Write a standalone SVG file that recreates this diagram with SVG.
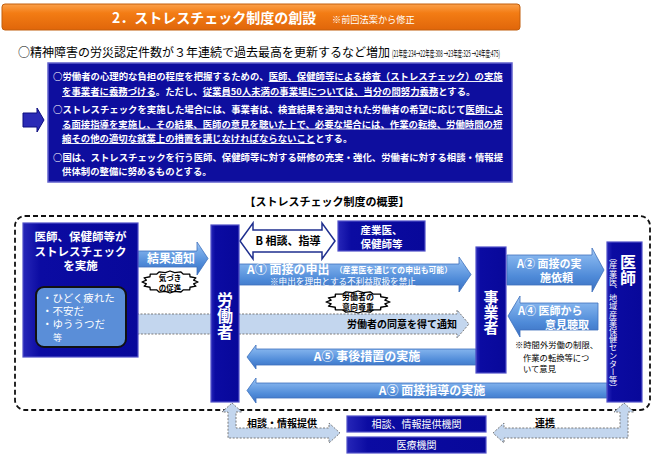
<svg xmlns="http://www.w3.org/2000/svg" width="660" height="457" viewBox="0 0 660 457">
<defs>
<linearGradient id="og" x1="0" y1="0" x2="0" y2="1">
<stop offset="0" stop-color="#fba04a"/><stop offset="0.35" stop-color="#f37c14"/><stop offset="1" stop-color="#e0660a"/>
</linearGradient>
<linearGradient id="ag" x1="0" y1="0" x2="0" y2="1">
<stop offset="0" stop-color="#b4d4f7"/><stop offset="0.2" stop-color="#80b1ec"/><stop offset="0.65" stop-color="#4e8ad8"/><stop offset="1" stop-color="#3a6fc0"/>
</linearGradient>
<linearGradient id="ng" x1="0" y1="0" x2="1" y2="0">
<stop offset="0" stop-color="#2626b8"/><stop offset="0.15" stop-color="#0b0ba2"/><stop offset="1" stop-color="#08089a"/>
</linearGradient>
<path id="star" d="M28,0 L23.6,1.84 L25.9,4.2 L20,5.26 L19.8,7.78 L13.4,7.86 L10.7,10.2 L4.7,9.28 L0,11 L-4.7,9.28 L-10.7,10.2 L-13.4,7.86 L-19.8,7.78 L-20,5.26 L-25.9,4.2 L-23.6,1.84 L-28,0 L-23.6,-1.84 L-25.9,-4.2 L-20,-5.26 L-19.8,-7.78 L-13.4,-7.86 L-10.7,-10.2 L-4.7,-9.28 L0,-11 L4.7,-9.28 L10.7,-10.2 L13.4,-7.86 L19.8,-7.78 L20,-5.26 L25.9,-4.2 L23.6,-1.84 Z"/>
</defs>
<style>
text{font-family:"Noto Sans CJK JP","Noto Sans CJK SC",sans-serif;}
.w{fill:#fff}
.k{fill:#000}
.b{font-weight:bold}
.node{fill:url(#ng);stroke:#5050c8;stroke-width:1.2}
.arr{fill:url(#ag);stroke:#3c70bd;stroke-width:0.8}
.band{fill:#c3d6ee;stroke:#7a7a7a;stroke-width:1;stroke-dasharray:2 1.5}
.u{text-decoration:underline}
.vt{writing-mode:vertical-rl}
.star{fill:#fff;stroke:#000;stroke-width:1.3;stroke-linejoin:round}
</style>
<rect width="660" height="457" fill="#fff"/>

<g id="title">
<rect x="2" y="4" width="518" height="26" rx="3" fill="url(#og)" stroke="#c25e0c" stroke-width="1"/>
<text x="112" y="23" class="w b" font-size="14">2．ストレスチェック制度の創設</text>
<text x="332" y="23" class="w" font-size="9.2">※前回法案から修正</text>
</g>

<g id="intro">
<text x="18" y="57" class="k" font-size="12">○精神障害の労災認定件数が３年連続で過去最高を更新するなど増加</text>
<text x="392" y="57" class="k" font-size="9.5" textLength="108" lengthAdjust="spacingAndGlyphs">(21年度:234→22年度:308 →23年度:325 →24年度:475)</text>
</g>

<g id="summary">
<path d="M23,113 H37 V108 L44,120 L37,132 V127 H23 Z" fill="#2a2ab6" stroke="#0c0c80" stroke-width="1"/>
<rect x="48" y="63" width="464" height="119" fill="#0e0e9e" stroke="#6060cc" stroke-width="1.5"/>
<g class="w b" font-size="9.4">
<text x="53" y="80">○労働者の心理的な負担の程度を把握するための、<tspan class="u">医師、保健師等による検査（ストレスチェック）の実施</tspan></text>
<text x="62" y="95"><tspan class="u">を事業者に義務づける</tspan>。ただし、<tspan class="u">従業員50人未満の事業場については、当分の間努力義務</tspan>とする。</text>
<text x="53" y="113">○ストレスチェックを実施した場合には、事業者は、検査結果を通知された労働者の希望に応じて<tspan class="u">医師によ</tspan></text>
<text x="62" y="127.5"><tspan class="u">る面接指導を実施し、その結果、医師の意見を聴いた上で、必要な場合には、作業の転換、労働時間の短</tspan></text>
<text x="62" y="142"><tspan class="u">縮その他の適切な就業上の措置を講じなければならないこと</tspan>とする。</text>
<text x="53" y="161">○国は、ストレスチェックを行う医師、保健師等に対する研修の充実・強化、労働者に対する相談・情報提</text>
<text x="62" y="175">供体制の整備に努めるものとする。</text>
</g>
</g>

<g id="overview">
<text x="327" y="206" class="k b" font-size="11" text-anchor="middle">【ストレスチェック制度の概要】</text>
<rect x="15" y="216" width="635" height="194" rx="10" fill="none" stroke="#111" stroke-width="1.8" stroke-dasharray="5 3"/>
</g>

<g id="connectors">
<g id="c-consent">
<path class="band" d="M137,314 H457 V310 L469,324 L457,338 V334 H137 Z"/>
<text x="457" y="327.5" class="k b" font-size="10" text-anchor="end">労働者の同意を得て通知</text>
</g>
<g id="c-result">
<path class="arr" d="M138,251 H197 V242 L208,258.5 L197,275 V267 H138 Z"/>
<text x="171" y="263" class="w b" font-size="12" text-anchor="middle">結果通知</text>
</g>
<g id="c-B">
<path d="M240,241 L253,223 V230 H322 V223 L335,241 L322,259 V252 H253 V259 Z" fill="#fff" stroke="#1f2f8f" stroke-width="1.5"/>
<text x="288" y="245" class="k b" font-size="11" text-anchor="middle">B 相談、指導</text>
</g>
<g id="c-A1">
<path class="arr" d="M239,264 H459 V257 L471,274.5 L459,292 V285 H239 Z"/>
<text x="247" y="274" class="w b" font-size="12">A① 面接の申出</text>
<text x="335" y="273" class="w b" font-size="7.8">（産業医を通じての申出も可能）</text>
<text x="270" y="284.5" class="w" font-size="8.6">※申出を理由とする不利益取扱を禁止</text>
</g>
<g id="c-A2">
<path class="arr" d="M507,255 H592 V248 L604,270 L592,292 V285 H507 Z"/>
<text x="517" y="268" class="w b" font-size="11">A② 面接の実</text>
<text x="540" y="282" class="w b" font-size="11">施依頼</text>
</g>
<g id="c-A4">
<path class="arr" d="M598,303 H520 V296 L508,316 L520,337 V330 H598 Z"/>
<text x="518" y="315" class="w b" font-size="11">A④ 医師から</text>
<text x="545" y="329" class="w b" font-size="11">意見聴取</text>
</g>
<g id="c-A5">
<path class="arr" d="M476,349 H256 V345 L247,357 L256,369 V365 H476 Z"/>
<text x="367" y="361" class="w b" font-size="12" text-anchor="middle">A⑤ 事後措置の実施</text>
</g>
<g id="c-A3">
<path class="arr" d="M607,383 H256 V378 L247,390.5 L256,403 V398 H607 Z"/>
<text x="432" y="395" class="w b" font-size="12" text-anchor="middle">A③ 面接指導の実施</text>
</g>
<g id="c-consult">
<path class="band" d="M232,403 L242,412 H236 V428 H329 V423 L340,433 L329,443 V438 H228 V412 H222 Z"/>
<text x="247" y="427" class="k b" font-size="10">相談・情報提供</text>
</g>
<g id="c-link">
<path class="band" d="M624,403 L634,412 H628 V438 H504 V443 L493,433 L504,423 V428 H620 V412 H614 Z"/>
<text x="545" y="427" class="k b" font-size="10" text-anchor="middle">連携</text>
</g>
<g id="n-notice">
<use href="#star" class="star" transform="translate(170,282)"/>
<text x="170" y="281" class="k b" font-size="7.5" text-anchor="middle">気づき</text>
<text x="170" y="290.5" class="k b" font-size="7.5" text-anchor="middle">の促進</text>
</g>
<g id="n-respect">
<use href="#star" class="star" transform="translate(358,302) scale(1.14,1)"/>
<text x="358" y="300" class="k b" font-size="8" text-anchor="middle">労働者の</text>
<text x="358" y="310" class="k b" font-size="8" text-anchor="middle">意向尊重</text>
</g>
</g>

<g id="n-check">
<rect class="node" x="23" y="223" width="115" height="134"/>
<g class="w b" font-size="11.5" text-anchor="middle">
<text x="80.5" y="241">医師、保健師等が</text>
<text x="80.5" y="256">ストレスチェック</text>
<text x="80.5" y="270">を実施</text>
</g>
<rect x="36" y="287" width="90" height="60" rx="8" fill="#5a8ed8" stroke="#111" stroke-width="2"/>
<g class="w" font-size="10.5">
<text x="42" y="302">・ひどく疲れた</text>
<text x="42" y="315">・不安だ</text>
<text x="42" y="328">・ゆううつだ</text>
<text x="53" y="341" font-size="9">等</text>
</g>
</g>

<g id="n-worker">
<rect class="node" x="211" y="225" width="28" height="177"/>
<text x="225" y="292" class="w b vt" font-size="16">労働者</text>
</g>

<g id="n-ohp">
<rect class="node" x="338" y="221" width="87" height="30"/>
<text x="381.5" y="234" class="w b" font-size="10.5" text-anchor="middle">産業医、</text>
<text x="381.5" y="247.5" class="w b" font-size="10.5" text-anchor="middle">保健師等</text>
</g>

<g id="n-employer">
<rect class="node" x="476" y="247" width="30" height="126"/>
<text x="491" y="290" class="w b vt" font-size="15">事業者</text>
<text x="515" y="348" class="k" font-size="8.3">※時間外労働の制限、</text>
<text x="523" y="360.5" class="k" font-size="8.3">作業の転換等につ</text>
<text x="523" y="372" class="k" font-size="8.3">いて意見</text>
</g>

<g id="n-doctor">
<rect class="node" x="607" y="242" width="35" height="160"/>
<text x="628" y="254" class="w b vt" font-size="16">医師</text>
<text x="613" y="253" class="w vt" font-size="8.2">（産業医、地域産業保健センター等）</text>
</g>

<g id="n-consult-org">
<rect class="node" x="347" y="416" width="139" height="16"/>
<text x="416.5" y="428" class="w" font-size="10" text-anchor="middle">相談、情報提供機関</text>
</g>
<g id="n-medical">
<rect class="node" x="347" y="437" width="139" height="16"/>
<text x="416.5" y="449" class="w" font-size="10" text-anchor="middle">医療機関</text>
</g>
</svg>
